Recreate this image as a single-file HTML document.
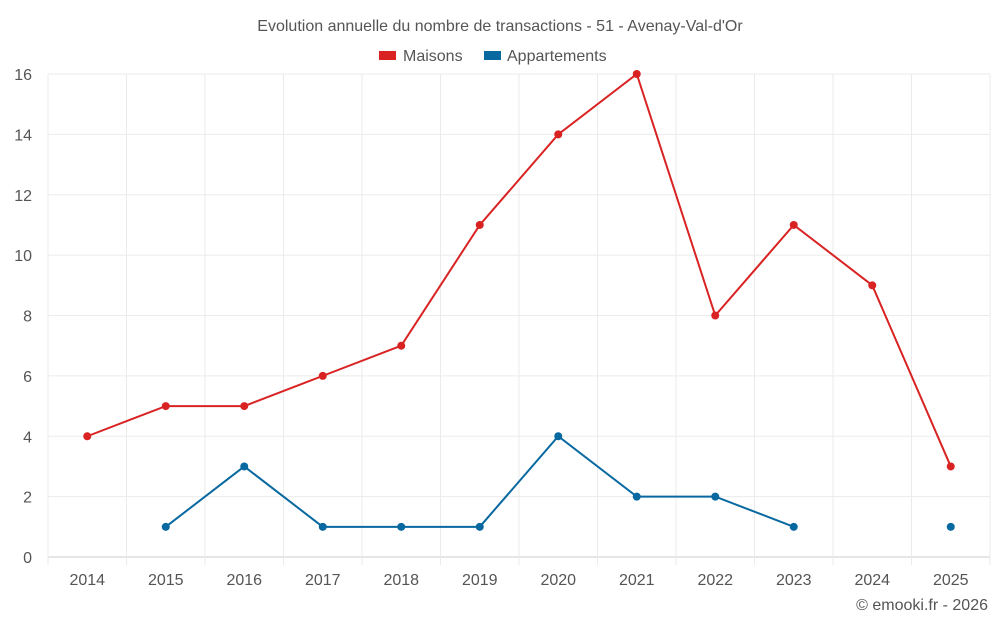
<!DOCTYPE html>
<html><head><meta charset="utf-8"><style>
body{margin:0;background:#fff;}
svg{display:block;font-family:"Liberation Sans",sans-serif;}
</style></head><body>
<svg id="chart" width="1000" height="625">
<text x="500" y="31" text-anchor="middle" font-size="16" fill="#555">Evolution annuelle du nombre de transactions - 51 - Avenay-Val-d'Or</text>
<g>
<g><rect x="379" y="51" width="17" height="9" fill="#d92323"/><text x="403" y="61" font-size="16" fill="#555">Maisons</text></g>
<g><rect x="484" y="51" width="17" height="9" fill="#0868a0"/><text x="507" y="61" font-size="16" fill="#555">Appartements</text></g>
</g>
<g id="grid"></g><g id="axes"></g><g id="series"></g>
<text x="988" y="610" text-anchor="end" font-size="16" fill="#555">© emooki.fr - 2026</text>
</svg>
<script>
const years=["2014","2015","2016","2017","2018","2019","2020","2021","2022","2023","2024","2025"];
const maisons=[4,5,5,6,7,11,14,16,8,11,9,3];
const appartements=[null,1,3,1,1,1,4,2,2,1,null,1];
const yTicks=[0,2,4,6,8,10,12,14,16];
const NS="http://www.w3.org/2000/svg";
const L=48,R=990,T=74,B=557,yMax=16;
const bw=(R-L)/years.length;
const x=i=>L+bw*(i+0.5);
const y=v=>B-(B-T)*v/yMax;
function mk(tag,attrs,parent,text){const e=document.createElementNS(NS,tag);for(const k in attrs)e.setAttribute(k,attrs[k]);if(text!==undefined)e.textContent=text;parent.appendChild(e);return e;}
const grid=document.getElementById('grid'),axes=document.getElementById('axes'),ser=document.getElementById('series');
yTicks.forEach(t=>{
 const l=mk('line',{x1:L,x2:R,y1:y(t),y2:y(t),stroke:t===0?'#ccc':'#ebebeb','stroke-width':1},grid);
 
 
 const tx=mk('text',{x:32,y:y(t)+6,'text-anchor':'end','font-size':16,fill:'#555'},axes,t);
 
 
});
for(let i=0;i<=years.length;i++){
 const l=mk('line',{x1:L+bw*i,x2:L+bw*i,y1:T,y2:B+(i<years.length+1?8:0),stroke:'#ebebeb','stroke-width':1},grid);
 
 
}
years.forEach((yr,i)=>{
 const tx=mk('text',{x:x(i),y:585,'text-anchor':'middle','font-size':16,fill:'#555'},axes,yr);
 
 
});
function drawSeries(vals,color,name){
 const g=mk('g',{},ser);
 
 
 let seg=[];
 const flush=()=>{if(seg.length>1){const p=mk('polyline',{points:seg.join(' '),fill:'none',stroke:color,'stroke-width':2},g);}seg=[];};
 vals.forEach((v,i)=>{if(v===null){flush();return;}seg.push(x(i)+','+y(v));});
 flush();
 vals.forEach((v,i)=>{if(v===null)return;
  const c=mk('circle',{cx:x(i),cy:y(v),r:4,fill:color},g);
  
  
 });
}
drawSeries(maisons,'#d92323','maisons');
drawSeries(appartements,'#0868a0','appartements');
</script>
</body></html>
